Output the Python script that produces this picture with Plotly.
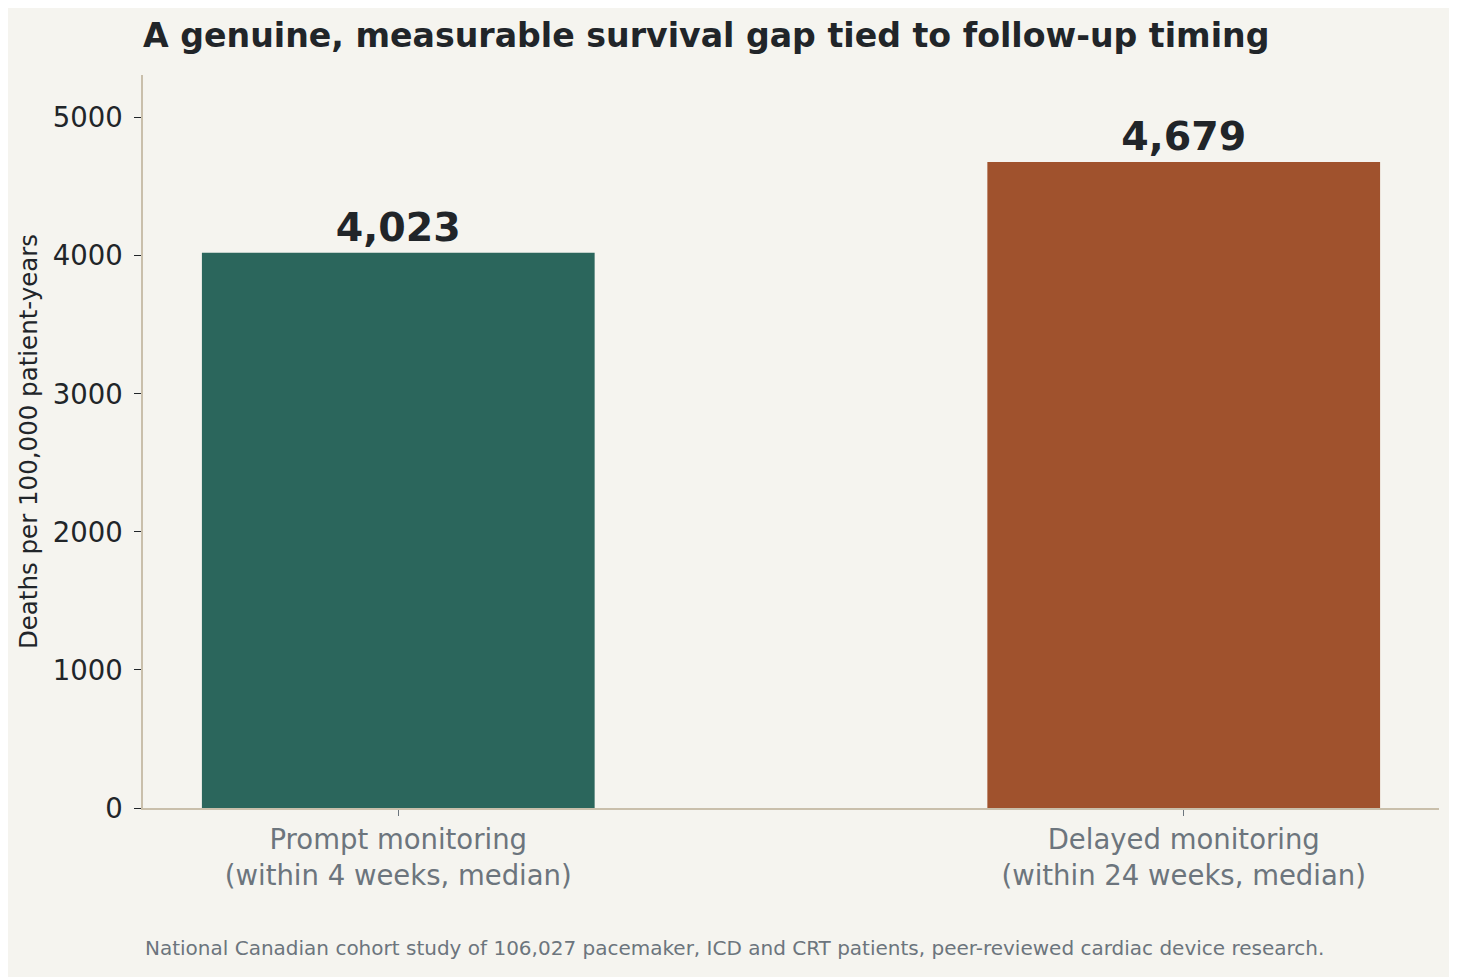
import plotly.graph_objects as go

# values
categories = ['Prompt monitoring<br>(within 4 weeks, median)',
              'Delayed monitoring<br>(within 24 weeks, median)']
death_rates = [4023, 4679]
bar_colors = ['#2b665c', '#a0522d']

title_text = 'A genuine, measurable survival gap tied to follow-up timing'
y_label = 'Deaths per 100,000 patient-years'
source_note = ('National Canadian cohort study of 106,027 pacemaker, ICD and CRT patients, '
               'peer-reviewed cardiac device research.')

BG = '#f5f4ef'
AXIS = '#c9bfab'
DARK = '#212529'
GREY = '#6c757d'
FONT = 'DejaVu Sans'

# the page puts the plot 8px in from the top-left, so size it to fit the window
W, H = 1449, 969

fig = go.Figure()
fig.add_trace(go.Bar(
    x=[0, 1],
    y=death_rates,
    width=0.5,
    marker=dict(color=bar_colors, line=dict(width=0)),
    texttemplate='<b>%{y:,}</b>',
    textposition='outside',
    textfont=dict(family=FONT, size=39.5, color=DARK),
    cliponaxis=False,
    hoverinfo='skip',
))

fig.update_layout(
    width=W,
    height=H,
    paper_bgcolor=BG,
    plot_bgcolor=BG,
    margin=dict(l=135, r=18, t=67, b=169),
    showlegend=False,
    font=dict(family=FONT, color=DARK),
    title=dict(
        text='<b>' + title_text + '</b>',
        x=135 / W, xref='container', xanchor='left',
        y=1 - 27 / H, yref='container', yanchor='middle',
        font=dict(family=FONT, size=33.2, color=DARK),
    ),
)

fig.update_xaxes(
    range=[-0.325, 1.325],
    tickmode='array',
    tickvals=[0, 1],
    ticktext=categories,
    tickfont=dict(family=FONT, size=27.5, color=GREY),
    ticks='outside', ticklen=6, tickcolor=GREY, tickwidth=1.2,
    showline=True, linecolor=AXIS, linewidth=1.6,
    showgrid=False, zeroline=False,
)

fig.update_yaxes(
    range=[0, 5310],
    dtick=1000,
    tickfont=dict(family=FONT, size=27.5, color=DARK),
    ticks='outside', ticklen=7, tickcolor=DARK, tickwidth=1.2,
    ticklabelstandoff=6,
    showline=True, linecolor=AXIS, linewidth=1.6,
    showgrid=False, zeroline=False,
    title=dict(text=y_label, font=dict(family=FONT, size=24.5, color=DARK), standoff=8),
)

# source note below the plot area (plot spans 733px vertically)
fig.add_annotation(
    text=source_note,
    x=0, xref='paper', xanchor='left',
    y=(808 - 948) / 733, yref='paper', yanchor='middle',
    showarrow=False,
    font=dict(family=FONT, size=20, color=GREY),
)

fig.write_html("out.html")
